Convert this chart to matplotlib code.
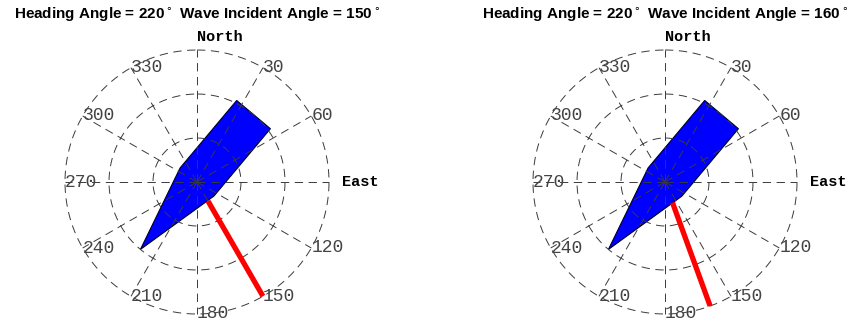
import numpy as np
import matplotlib
matplotlib.use('Agg')
import matplotlib.pyplot as plt

plt.rcParams['lines.scale_dashes'] = False

# data
heading = 220.
wave_angles = [150., 160.]

# ship outline, local coords (forward along heading, side to starboard)
hull_fwd = np.array([2., 0., -2., -2., 0.])
hull_side = np.array([0., 0.5, 0.5, -0.5, -0.5])

# wave arrow from r0 to r1
wave_r = [0.5, 3.]

rings = [1., 2., 3.]
rmax = 3.
spoke_deg = np.arange(0, 360, 30)
spoke_labels = {0: 'North', 90: 'East'}

grid_col = '#3a3a3a'
dash = (0, (6, 4))

fig = plt.figure(figsize=(8.5, 3.24), dpi=100)

def ship_polar(hdg):
    r = np.hypot(hull_fwd, hull_side)
    th = np.deg2rad(hdg) + np.arctan2(hull_side, hull_fwd)
    return th, r

centers = [197, 665]
for k, wave in enumerate(wave_angles):
    cx = centers[k]
    ax = fig.add_axes([(cx - 132) / 850., 10 / 324., 264 / 850., 264 / 324.], polar=True)
    ax.set_theta_zero_location('N')
    ax.set_theta_direction(-1)
    ax.set_rlim(0, rmax)
    ax.grid(False)
    ax.set_xticks([])
    ax.set_yticks([])
    ax.spines['polar'].set_visible(False)
    ax.patch.set_alpha(0)

    th, r = ship_polar(heading)
    ax.fill(th, r, facecolor='#0000ff', edgecolor='#000022', linewidth=0.8, zorder=1)

    # grid
    t = np.linspace(0, 2 * np.pi, 361)
    for rr in rings:
        ax.plot(t, np.full_like(t, rr), color=grid_col, lw=0.7, ls=dash, zorder=2, clip_on=False)
    for d in spoke_deg:
        ax.plot([np.deg2rad(d)] * 2, [0, rmax], color=grid_col, lw=0.7, ls=dash, zorder=2, clip_on=False)

    # wave direction
    ax.plot([np.deg2rad(wave)] * 2, wave_r, color='#ff0000', lw=3.8, solid_capstyle='butt', zorder=3)

    # labels
    for d in spoke_deg:
        if d in spoke_labels:
            ax.text(np.deg2rad(d), 1.1 * rmax, spoke_labels[d], ha='left', va='center',
                    family='Liberation Mono', fontweight='bold', fontsize=11, color='black', clip_on=False)
        else:
            ax.text(np.deg2rad(d), rmax, str(d), ha='left', va='center',
                    family='Liberation Mono', fontsize=13, color='#444444', clip_on=False)

    fig.text(cx / 850., 1 - 15 / 324., 'Heading Angle = %d$^\\circ$ Wave Incident Angle = %d$^\\circ$' % (heading, wave),
             ha='center', va='center', family='Liberation Sans', fontweight='bold', fontsize=11)

fig.savefig('out.png', dpi=100)
